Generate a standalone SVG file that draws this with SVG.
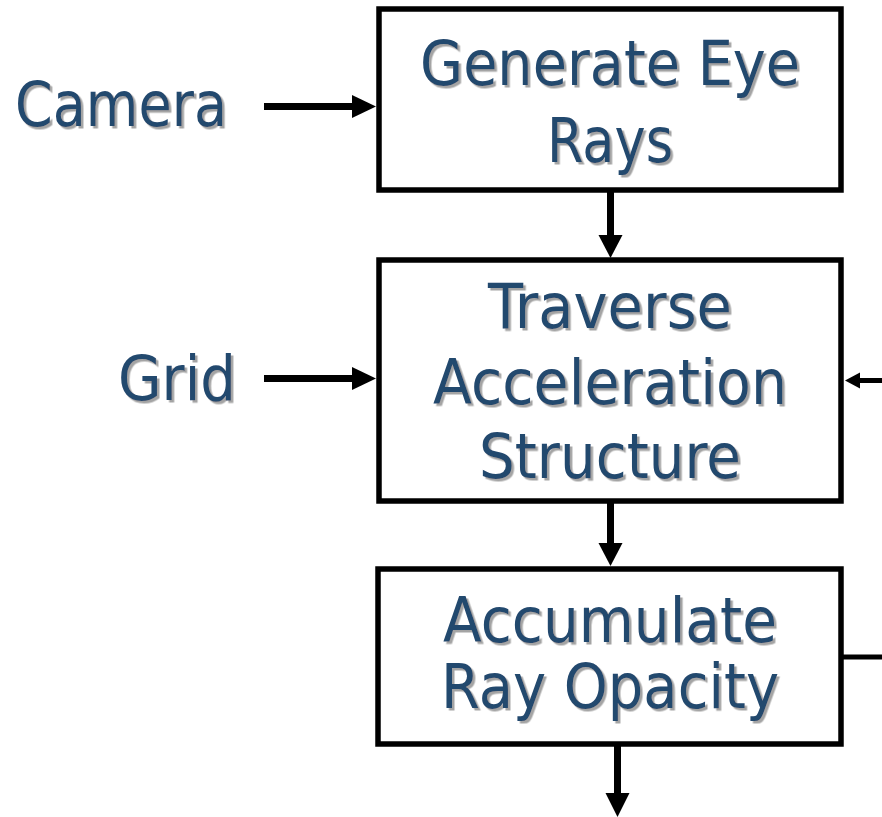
<svg xmlns="http://www.w3.org/2000/svg" width="882" height="817" viewBox="0 0 882 817">
  <defs>
    <filter id="shadow" x="-10%" y="-20%" width="130%" height="150%">
      <feDropShadow dx="2.5" dy="2.5" stdDeviation="0.6" flood-color="#9a9a9a" flood-opacity="0.9"/>
    </filter>
  </defs>
  <style>
    .box { fill: #ffffff; stroke: #000000; stroke-width: 5.5; }
    .lbl { font-family: "DejaVu Sans", Verdana, sans-serif; font-size: 62px; fill: #24486e; filter: url(#shadow); }
    .mid { text-anchor: middle; }
    .wire { stroke: #000000; stroke-width: 7; fill: none; }
    .thin { stroke: #000000; stroke-width: 5; fill: none; }
    .head { fill: #000000; stroke: none; }
  </style>
  <rect width="882" height="817" fill="#ffffff"/>

  <g id="node-generate">
    <rect class="box" x="379" y="9" width="462" height="181"/>
    <text class="lbl mid" x="610" y="85" textLength="380" lengthAdjust="spacingAndGlyphs">Generate Eye</text>
    <text class="lbl mid" x="610" y="162" textLength="126" lengthAdjust="spacingAndGlyphs">Rays</text>
  </g>

  <g id="node-traverse">
    <rect class="box" x="379" y="260" width="462" height="241"/>
    <text class="lbl mid" x="610" y="328" textLength="244" lengthAdjust="spacingAndGlyphs">Traverse</text>
    <text class="lbl mid" x="610" y="404" textLength="354" lengthAdjust="spacingAndGlyphs">Acceleration</text>
    <text class="lbl mid" x="610" y="478" textLength="262" lengthAdjust="spacingAndGlyphs">Structure</text>
  </g>

  <g id="node-accumulate">
    <rect class="box" x="378" y="569" width="463" height="175"/>
    <text class="lbl mid" x="610" y="642" textLength="334" lengthAdjust="spacingAndGlyphs">Accumulate</text>
    <text class="lbl mid" x="610" y="708" textLength="338" lengthAdjust="spacingAndGlyphs">Ray Opacity</text>
  </g>

  <g id="node-camera">
    <text class="lbl" x="15" y="126" textLength="212" lengthAdjust="spacingAndGlyphs">Camera</text>
  </g>

  <g id="node-grid">
    <text class="lbl" x="118" y="400" textLength="118" lengthAdjust="spacingAndGlyphs">Grid</text>
  </g>

  <g id="connectors">
    <!-- Camera -> Generate -->
    <line class="wire" x1="264" y1="106.5" x2="353" y2="106.5"/>
    <polygon class="head" points="352,95 376,106.5 352,118"/>
    <!-- Grid -> Traverse -->
    <line class="wire" x1="264" y1="378.5" x2="353" y2="378.5"/>
    <polygon class="head" points="352,367 376,378.5 352,390"/>
    <!-- Generate -> Traverse -->
    <line class="wire" x1="610.5" y1="192" x2="610.5" y2="236"/>
    <polygon class="head" points="598.5,235 622.5,235 610.5,258"/>
    <!-- Traverse -> Accumulate -->
    <line class="wire" x1="610.5" y1="503" x2="610.5" y2="544"/>
    <polygon class="head" points="598.5,543 622.5,543 610.5,566"/>
    <!-- Accumulate -> out -->
    <line class="wire" x1="617.5" y1="746" x2="617.5" y2="794"/>
    <polygon class="head" points="605.5,793 629.5,793 617.5,817"/>
    <!-- loop back into Traverse from right -->
    <line class="thin" x1="858" y1="380.5" x2="882" y2="380.5"/>
    <polygon class="head" points="860,372.5 845,380.5 860,388.5"/>
    <!-- Accumulate out to right -->
    <line class="thin" x1="843" y1="657" x2="882" y2="657"/>
  </g>
</svg>
